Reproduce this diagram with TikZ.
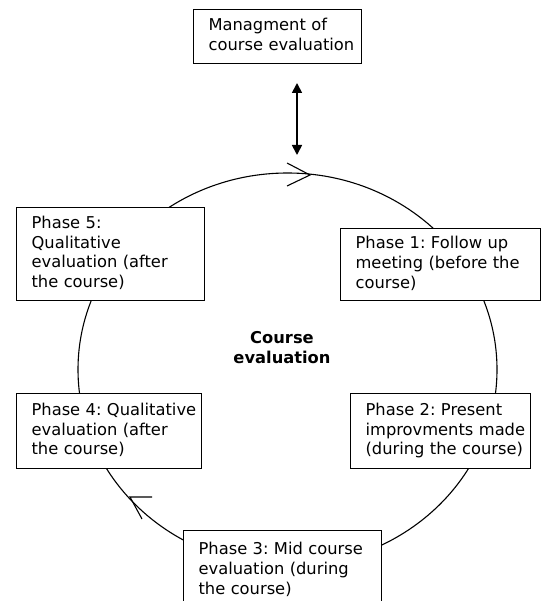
\documentclass[tikz,border=0pt]{standalone}
\usepackage{fontspec}
\setmainfont{DejaVu Sans}
\usetikzlibrary{arrows.meta}
\newcommand{\boxlines}[1]{\begin{tabular}{@{\hspace{15pt}}l@{}}#1\end{tabular}}
\begin{document}
\frenchspacing
\begin{tikzpicture}[x=1pt,y=-1pt,
  box/.style={draw, line width=1.2pt, fill=white, anchor=north west, align=left,
    inner xsep=0pt, inner ysep=0pt,
    font=\fontsize{16.3pt}{19.8pt}\selectfont\frenchspacing},
  cyc/.style={line width=1.1pt},
  chev/.style={line width=1.1pt, line join=miter},
  dbl/.style={line width=1.7pt, {Triangle[length=10pt,width=10pt]}-{Triangle[length=10pt,width=10pt]}}]
\clip (0,0) rectangle (542,601);
% cycle
\draw[cyc] (287.5,369.5) ellipse [x radius=209.5, y radius=196.5];
\draw[chev] (287,163) -- (310,175) -- (287,186);
\draw[chev] (152,497) -- (130,497) -- (142,519);
% boxes
\node[box, text width=168pt, minimum height=54pt] (mgmt) at (193,9)
  {\boxlines{Managment of\\course evaluation}};
\node[box, text width=188pt, minimum height=93pt] (p5) at (16,207)
  {\boxlines{Phase 5:\\Qualitative\\evaluation (after\\the course)}};
\node[box, text width=200pt, minimum height=72pt] (p1) at (340,228)
  {\boxlines{Phase 1: Follow up\\meeting (before the\\course)}};
\node[box, text width=185pt, minimum height=75pt] (p4) at (16,393)
  {\boxlines{Phase 4: Qualitative\\evaluation (after\\the course)}};
\node[box, text width=180pt, minimum height=75pt] (p2) at (350,393)
  {\boxlines{Phase 2: Present\\improvments made\\(during the course)}};
\node[box, text width=198pt, inner ysep=10pt] (p3) at (183,530)
  {\boxlines{Phase 3: Mid course\\evaluation (during\\the course)}};
\node[font=\fontsize{16.3pt}{19.5pt}\selectfont\bfseries, align=center] (ce) at (282,347.5)
  {Course\\evaluation};
% double arrow
\coordinate (up) at (297,83);
\coordinate (dn) at (297,155);
\draw[dbl] (up) -- (dn);
\end{tikzpicture}
\end{document}
